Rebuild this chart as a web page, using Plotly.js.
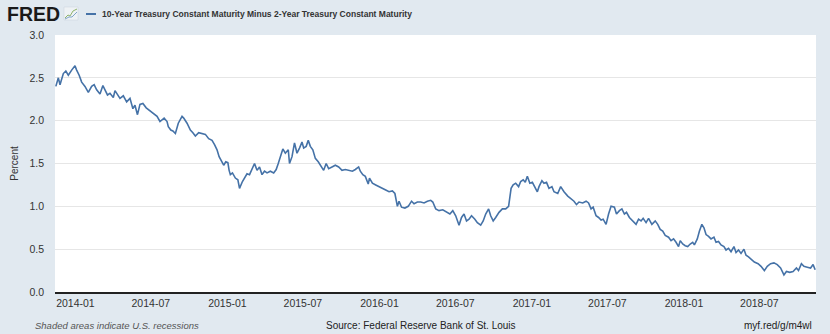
<!DOCTYPE html>
<html>
<head>
<meta charset="utf-8">
<script src="https://cdn.plot.ly/plotly-3.0.1.min.js"></script>
<style>
html,body{margin:0;padding:0;background:#e1e9f0;}
#chart{width:830px;height:334px;}
</style>
</head>
<body>
<div id="chart"></div>
<script>
const dates = [
"2013-11-15","2013-11-21","2013-11-25","2013-12-03","2013-12-09","2013-12-15","2013-12-23","2013-12-31",
"2014-01-04","2014-01-10","2014-01-16","2014-01-24","2014-02-01","2014-02-09","2014-02-15","2014-02-21",
"2014-03-01","2014-03-08","2014-03-13","2014-03-19","2014-03-25","2014-04-02","2014-04-06","2014-04-13",
"2014-04-18","2014-04-26","2014-05-04","2014-05-12","2014-05-19","2014-05-24","2014-05-30","2014-06-05",
"2014-06-12","2014-06-20","2014-06-28","2014-07-07","2014-07-16","2014-07-23","2014-08-02","2014-08-09",
"2014-08-12","2014-08-18","2014-08-23","2014-08-29","2014-09-05","2014-09-14","2014-09-18","2014-09-26",
"2014-10-04","2014-10-10","2014-10-16","2014-10-24","2014-11-01","2014-11-09","2014-11-17","2014-11-25",
"2014-12-01","2014-12-07","2014-12-12","2014-12-19","2014-12-23","2014-12-28","2015-01-02","2015-01-05",
"2015-01-08","2015-01-13","2015-01-20","2015-01-26","2015-01-30","2015-02-06","2015-02-11","2015-02-17",
"2015-02-23","2015-03-01","2015-03-07","2015-03-13","2015-03-19","2015-03-25","2015-03-31","2015-04-06",
"2015-04-14","2015-04-22","2015-04-28","2015-05-03","2015-05-08","2015-05-14","2015-05-20","2015-05-27",
"2015-05-30","2015-06-05","2015-06-11","2015-06-17","2015-06-23","2015-06-29","2015-07-03","2015-07-09",
"2015-07-14","2015-07-19","2015-07-25","2015-07-31","2015-08-07","2015-08-12","2015-08-20","2015-08-26",
"2015-09-01","2015-09-09","2015-09-17","2015-09-25","2015-10-03","2015-10-11","2015-10-19","2015-10-28",
"2015-11-04","2015-11-12","2015-11-16","2015-11-22","2015-11-28","2015-12-05","2015-12-08","2015-12-15",
"2015-12-23","2015-12-30","2016-01-08","2016-01-16","2016-01-24","2016-02-01","2016-02-07","2016-02-13",
"2016-02-17","2016-02-23","2016-03-02","2016-03-10","2016-03-18","2016-03-24","2016-04-01","2016-04-09",
"2016-04-17","2016-04-25","2016-05-03","2016-05-08","2016-05-15","2016-05-23","2016-06-01","2016-06-10",
"2016-06-18","2016-06-25","2016-07-02","2016-07-10","2016-07-16","2016-07-22","2016-07-28","2016-08-03",
"2016-08-09","2016-08-17","2016-08-23","2016-08-31","2016-09-06","2016-09-12","2016-09-19","2016-09-24",
"2016-09-30","2016-10-06","2016-10-14","2016-10-22","2016-10-30","2016-11-06","2016-11-09","2016-11-12",
"2016-11-17","2016-11-23","2016-11-30","2016-12-05","2016-12-11","2016-12-16","2016-12-21","2016-12-27",
"2017-01-02","2017-01-09","2017-01-14","2017-01-18","2017-01-25","2017-01-30","2017-02-05","2017-02-11",
"2017-02-18","2017-02-23","2017-03-04","2017-03-11","2017-03-19","2017-03-28","2017-04-05","2017-04-12",
"2017-04-18","2017-04-24","2017-05-03","2017-05-11","2017-05-17","2017-05-23","2017-05-28","2017-06-04",
"2017-06-10","2017-06-16","2017-06-21","2017-06-28","2017-07-04","2017-07-10","2017-07-18","2017-07-23",
"2017-07-30","2017-08-05","2017-08-11","2017-08-16","2017-08-23","2017-08-31","2017-09-08","2017-09-14",
"2017-09-20","2017-09-25","2017-10-02","2017-10-08","2017-10-16","2017-10-24","2017-10-30","2017-11-05",
"2017-11-11","2017-11-17","2017-11-25","2017-12-01","2017-12-07","2017-12-13","2017-12-19","2017-12-23",
"2017-12-29","2018-01-04","2018-01-10","2018-01-16","2018-01-22","2018-01-26","2018-02-02","2018-02-07",
"2018-02-13","2018-02-18","2018-02-23","2018-03-01","2018-03-07","2018-03-14","2018-03-19","2018-03-25",
"2018-03-31","2018-04-07","2018-04-12","2018-04-18","2018-04-24","2018-05-01","2018-05-06","2018-05-12",
"2018-05-18","2018-05-25","2018-05-30","2018-06-05","2018-06-11","2018-06-19","2018-06-28","2018-07-05",
"2018-07-13","2018-07-20","2018-07-28","2018-08-05","2018-08-13","2018-08-21","2018-08-29","2018-09-04",
"2018-09-12","2018-09-20","2018-09-28","2018-10-03","2018-10-10","2018-10-16","2018-10-24","2018-11-01",
"2018-11-07","2018-11-12"
];
const spread = [
2.40,2.50,2.42,2.55,2.58,2.53,2.59,2.64,
2.59,2.53,2.45,2.40,2.33,2.40,2.42,2.36,
2.31,2.41,2.36,2.30,2.32,2.27,2.35,2.30,
2.26,2.29,2.22,2.26,2.14,2.18,2.07,2.19,
2.20,2.15,2.12,2.09,2.05,1.99,2.03,1.99,
1.93,1.89,1.88,1.85,1.97,2.05,2.03,1.97,
1.89,1.86,1.82,1.86,1.85,1.84,1.79,1.77,
1.72,1.66,1.58,1.52,1.48,1.52,1.51,1.42,
1.37,1.39,1.33,1.31,1.21,1.29,1.33,1.38,
1.37,1.43,1.50,1.42,1.46,1.37,1.41,1.39,
1.41,1.39,1.43,1.50,1.58,1.67,1.62,1.66,
1.50,1.58,1.74,1.62,1.68,1.75,1.68,1.70,
1.77,1.70,1.66,1.56,1.52,1.48,1.42,1.50,
1.44,1.46,1.48,1.46,1.42,1.43,1.42,1.41,
1.43,1.46,1.41,1.37,1.35,1.26,1.33,1.27,
1.25,1.23,1.21,1.19,1.17,1.18,1.15,1.00,
1.06,0.99,0.98,1.00,1.06,1.03,1.05,1.05,
1.04,1.06,1.07,1.05,0.97,0.95,0.96,0.93,
0.91,0.95,0.89,0.78,0.87,0.91,0.83,0.85,
0.89,0.85,0.81,0.78,0.83,0.91,0.97,0.89,
0.83,0.87,0.93,0.97,0.97,1.00,1.15,1.21,
1.25,1.27,1.23,1.29,1.31,1.28,1.35,1.27,
1.28,1.21,1.17,1.23,1.30,1.27,1.28,1.21,
1.23,1.17,1.15,1.23,1.17,1.12,1.09,1.06,
1.02,1.05,1.04,1.06,1.04,0.97,0.99,0.89,
0.87,0.84,0.85,0.79,0.91,1.00,0.99,0.91,
0.95,0.97,0.91,0.93,0.87,0.83,0.79,0.85,
0.83,0.86,0.81,0.86,0.79,0.83,0.79,0.73,
0.71,0.66,0.64,0.60,0.62,0.58,0.53,0.60,
0.56,0.54,0.53,0.56,0.58,0.55,0.62,0.71,
0.79,0.75,0.67,0.65,0.62,0.64,0.58,0.59,
0.55,0.53,0.49,0.51,0.47,0.53,0.46,0.49,
0.45,0.50,0.43,0.41,0.38,0.35,0.33,0.30,
0.25,0.30,0.33,0.34,0.32,0.28,0.20,0.24,
0.23,0.24,0.28,0.25,0.33,0.30,0.29,0.28,
0.32,0.26
];
const xTickVals = ["2014-01-01","2014-07-01","2015-01-01","2015-07-01","2016-01-01","2016-07-01","2017-01-01","2017-07-01","2018-01-01","2018-07-01"];
const xTickText = ["2014-01","2014-07","2015-01","2015-07","2016-01","2016-07","2017-01","2017-07","2018-01","2018-07"];
const yTickVals = [0,0.5,1.0,1.5,2.0,2.5,3.0];
const yTickText = ["0.0","0.5","1.0","1.5","2.0","2.5","3.0"];

const seriesName = "10-Year Treasury Constant Maturity Minus 2-Year Treasury Constant Maturity";
const LINE = "#4572a7";
const narrow = '"Liberation Sans Narrow", "Arial Narrow", "Liberation Sans", sans-serif';

// plot area in pixels
const L = 55, R = 816, T = 35, B = 292, W = 830, H = 334;
const px = x => (x - L) / (R - L);
const py = y => (B - y) / (B - T);

const trace = {
  x: dates, y: spread, type: 'scatter', mode: 'lines',
  line: {color: LINE, width: 1.6}, hoverinfo: 'x+y', showlegend: false
};

const layout = {
  width: W, height: H,
  margin: {l: L, r: W - R, t: T, b: H - B, pad: 0},
  paper_bgcolor: '#e1e9f0', plot_bgcolor: '#ffffff',
  showlegend: false,
  xaxis: {
    type: 'date', range: ['2013-11-13', '2018-11-14'],
    tickvals: xTickVals, ticktext: xTickText,
    tickfont: {family: narrow, size: 10.5, color: '#333'},
    showgrid: false, zeroline: false,
    showline: true, linecolor: '#222', linewidth: 2,
    ticks: '', ticklen: 0, fixedrange: true
  },
  yaxis: {
    range: [0, 3], tickvals: yTickVals, ticktext: yTickText,
    tickfont: {family: narrow, size: 10.5, color: '#333'},
    showgrid: true, gridcolor: '#e6e6e6', gridwidth: 1,
    zeroline: false, showline: false, ticks: '', ticklabelstandoff: 10,
    title: {text: 'Percent', font: {family: narrow, size: 10, color: '#333'}, standoff: 8},
    fixedrange: true
  },
  shapes: [
    {type: 'line', xref: 'paper', yref: 'paper', x0: px(86), x1: px(96), y0: py(14), y1: py(14), line: {color: LINE, width: 2}},
    {type: 'rect', xref: 'paper', yref: 'paper', x0: px(64), x1: px(78), y0: py(20), y1: py(7), line: {color: '#c8d3dc', width: 0.5}, fillcolor: '#eef2f5'},
    {type: 'path', xref: 'paper', yref: 'paper',
      path: `M ${px(65)} ${py(18)} L ${px(68)} ${py(15)} L ${px(70)} ${py(16)} L ${px(73)} ${py(11)} L ${px(77)} ${py(9)}`,
      line: {color: '#8fb36b', width: 1}},
    {type: 'path', xref: 'paper', yref: 'paper',
      path: `M ${px(65)} ${py(19)} L ${px(69)} ${py(17)} L ${px(72)} ${py(17)} L ${px(77)} ${py(12)}`,
      line: {color: '#7fa3c8', width: 1}}
  ],
  annotations: [
    {xref: 'paper', yref: 'paper', x: px(5), y: py(14), xanchor: 'left', yanchor: 'middle', showarrow: false,
      text: '<b>FRED</b>', font: {family: '"Liberation Sans", Arial, sans-serif', size: 19.5, color: '#1a1a1a'}},
    {xref: 'paper', yref: 'paper', x: px(100), y: py(14), xanchor: 'left', yanchor: 'middle', showarrow: false,
      text: '<b>' + seriesName + '</b>', font: {family: '"Liberation Sans", Arial, sans-serif', size: 8.5, color: '#333'}},
    {xref: 'paper', yref: 'paper', x: px(33), y: py(325), xanchor: 'left', yanchor: 'middle', showarrow: false,
      text: '<i>Shaded areas indicate U.S. recessions</i>', font: {family: narrow, size: 9.5, color: '#555'}},
    {xref: 'paper', yref: 'paper', x: px(421), y: py(325), xanchor: 'center', yanchor: 'middle', showarrow: false,
      text: 'Source: Federal Reserve Bank of St. Louis', font: {family: narrow, size: 10, color: '#222'}},
    {xref: 'paper', yref: 'paper', x: px(814), y: py(325), xanchor: 'right', yanchor: 'middle', showarrow: false,
      text: 'myf.red/g/m4wl', font: {family: narrow, size: 10, color: '#222'}}
  ]
};

Plotly.newPlot('chart', [trace], layout, {displayModeBar: false, staticPlot: true});
</script>
</body>
</html>
